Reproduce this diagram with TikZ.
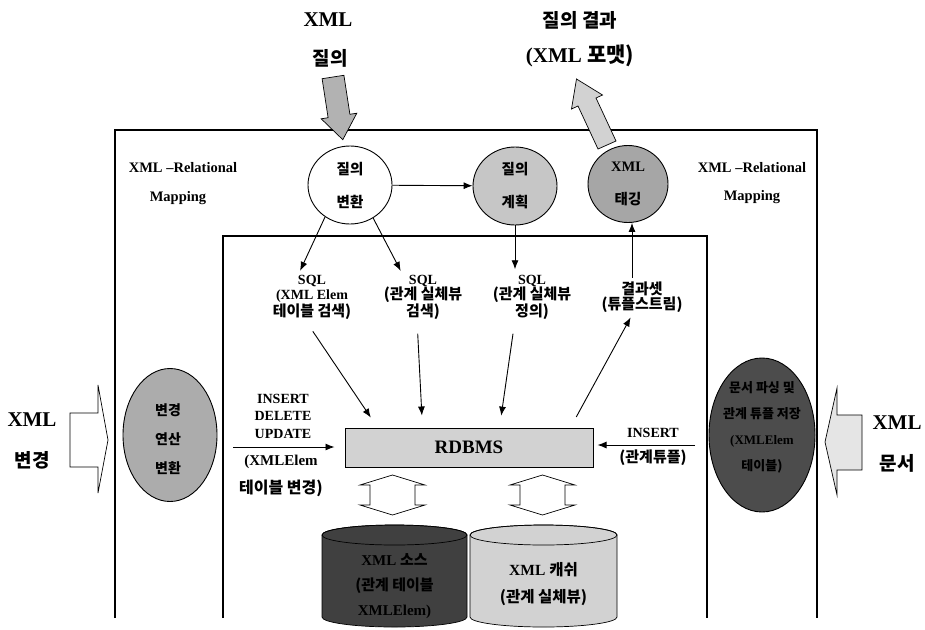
\documentclass[tikz,border=0pt]{standalone}
\usepackage{fontspec}
\setmainfont{Liberation Serif}
\newfontfamily\kr{Noto Sans CJK KR}
\newcommand\Kx[1]{{\kr\fontsize{15}{15}\selectfont #1}}
\usetikzlibrary{arrows.meta,shapes.geometric}
\begin{document}
\begin{tikzpicture}[x=1pt,y=-1pt,
  frameline/.style={line width=1.3pt},
  conn/.style={-{Latex[length=9pt,width=7pt]},line width=0.9pt},
  blk/.style={draw=black,line width=0.7pt,line join=miter},
  lbl/.style={align=center,inner sep=0pt,font=\bfseries\fontsize{14}{15}\selectfont},
  big/.style={inner sep=0pt,font=\bfseries\fontsize{21}{24}\selectfont},
  bigkr/.style={inner sep=0pt,font=\kr\bfseries\fontsize{19}{24}\selectfont},
  map/.style={inner sep=0pt,font=\bfseries\fontsize{14.5}{16}\selectfont},
  proc/.style={ellipse,draw,line width=0.9pt,minimum width=84pt,minimum height=78pt,inner sep=0pt},
  proctxt/.style={align=center,inner sep=0pt,font=\kr\bfseries\fontsize{14.5}{33}\selectfont},
  oval/.style={ellipse,draw,line width=0.9pt,inner sep=0pt},
]
\useasboundingbox (0,0) rectangle (925,629);
% frame
\draw[frameline] (115,618) -- (115,130) -- (817,130) -- (817,618);
\draw[frameline] (223,618) -- (223,236) -- (707,236) -- (707,618);
% top labels
\node[big] (tx) at (328,20) {XML};
\node[bigkr] (tq) at (330,58) {질의};
\node[bigkr] (tr1) at (580,20) {질의 결과};
\node[big] (tr2) at (580,56) {(XML {\kr 포맷)}};
% top block arrows
\filldraw[blk,fill=gray!60] (322.1,78.7) -- (343.9,75.3) -- (349.9,114.3) -- (356.8,113.2) -- (342.8,139.7) -- (321.2,118.8) -- (328.1,117.7) -- cycle;
\filldraw[blk,fill=gray!35] (576.5,79) -- (602.5,95) -- (596,98) -- (616,141) -- (598,149) -- (578,106) -- (571.5,109) -- cycle;
% mapping labels
\node[map] (m1) at (183,168) {XML –Relational};
\node[map] (m2) at (178,198) {Mapping};
\node[map] (m3) at (752,168) {XML –Relational};
\node[map] (m4) at (752,197) {Mapping};
% process circles
\node[proc,fill=white] (c1) at (350,185) {};
\node[proctxt] (c1t) at (c1) {질의\\변환};
\node[proc,fill=gray!45] (c2) at (515,186) {};
\node[proctxt] (c2t) at (c2) {질의\\계획};
\node[proc,fill=gray!70,minimum width=80pt,minimum height=77pt] (c3) at (628,184) {};
\node[proctxt] (c3t) at (c3) {{\rmfamily XML}\\태깅};
\draw[conn] (c1) -- (c2);
% SQL labels
\node[lbl] (s1) at (312,297.5) {SQL\\(XML Elem\\\Kx{테이블 검색)}};
\node[lbl] (s2) at (423,297.5) {SQL\\\Kx{(관계 실체뷰}\\\Kx{검색)}};
\node[lbl] (s3) at (532,297.5) {SQL\\\Kx{(관계 실체뷰}\\\Kx{정의)}};
\node[lbl] (s4) at (642,297.5) {\Kx{결과셋}\\\Kx{(튜플스트림)}};
\draw[conn,shorten >=5pt] (c1.232) -- ([xshift=-14pt]s1.north);
\draw[conn,shorten >=5pt] (c1.305) -- ([xshift=-20pt]s2.north);
\draw[conn,shorten >=6pt] (c2.south) -- (c2.south |- s3.north);
\coordinate (s4top) at ([xshift=-10pt,yshift=4pt]s4.north);
\draw[conn] (s4top) -- (s4top |- c3.south);
% RDBMS
\node[draw,fill=gray!35,minimum width=248pt,minimum height=39pt,inner sep=0pt,line width=1pt,font=\bfseries\fontsize{19}{22}\selectfont] (R) at (469,447.5) {RDBMS};
\draw[conn,shorten <=14pt,shorten >=12pt] ([xshift=-7pt]s1.south) -- ([xshift=33pt]R.north west);
\draw[conn,shorten <=14pt,shorten >=12pt] ([xshift=-6pt]s2.south) -- ([xshift=78pt]R.north west);
\draw[conn,shorten <=14pt,shorten >=12pt] ([xshift=-17pt]s3.south) -- ([xshift=155pt]R.north west);
\draw[conn,shorten <=12pt,shorten >=5pt] ([xshift=-23pt]R.north east) -- ([xshift=-9pt]s4.south);
% left update input
\node[lbl,font=\bfseries\fontsize{14}{17.5}\selectfont] (ins1) at (283,416) {INSERT\\DELETE\\UPDATE};
\coordinate (la) at (233,447);
\draw[conn,shorten >=10pt] (la) -- (R.west |- la);
\node[lbl,font=\bfseries\fontsize{15}{28}\selectfont] (ins2) at (281,476) {(XMLElem\\{\kr\fontsize{16}{28}\selectfont 테이블 변경)}};
% right insert
\node[lbl,font=\bfseries\fontsize{14}{17}\selectfont] (ins3) at (653,433) {INSERT};
\node[lbl,font=\kr\bfseries\fontsize{15}{17}\selectfont] (ins4) at (653,458) {(관계튜플)};
\coordinate (ra) at (695,445);
\draw[conn,shorten >=4pt] (ra) -- (R.east |- ra);
% side ellipses
\node[oval,fill=gray!65,minimum width=94pt,minimum height=133pt] (E1) at (170,435) {};
\node[proctxt,font=\kr\bfseries\fontsize{14}{29}\selectfont] (E1t) at (168,439) {변경\\연산\\변환};
\node[oval,fill=black!70,minimum width=106pt,minimum height=154pt] (E2) at (762,435) {};
\node[proctxt,font=\kr\bfseries\fontsize{13}{26}\selectfont] (E2t) at (762,427) {문서 파싱 및\\관계 튜플 저장\\{\rmfamily (XMLElem}\\테이블)};
% side big labels
\node[big] (lx) at (32,420) {XML};
\node[bigkr] (lb) at (32,460) {변경};
\node[big] (rx) at (897,423) {XML};
\node[bigkr] (rm) at (897,463) {문서};
% side block arrows
\filldraw[blk,fill=white] (70,413) -- (98,413) -- (98,385) -- (108,440) -- (98,493) -- (98,467) -- (70,467) -- cycle;
\filldraw[blk,fill=gray!20] (862,415) -- (837,415) -- (837,388) -- (825,442) -- (837,495) -- (837,470) -- (862,470) -- cycle;
% double arrows
\foreach \cx in {392.5,542.5}
  \filldraw[blk,fill=white] (\cx,475) -- (\cx+32.5,485) -- (\cx+22.5,485) -- (\cx+22.5,505) -- (\cx+32.5,505) -- (\cx,515) -- (\cx-32.5,505) -- (\cx-22.5,505) -- (\cx-22.5,485) -- (\cx-32.5,485) -- cycle;
% cylinders
\filldraw[blk,fill=black!75] (322,535) -- (322,617) arc[start angle=180,end angle=360,x radius=72.5pt,y radius=10pt] -- (467,535) arc[start angle=0,end angle=180,x radius=72.5pt,y radius=10pt] -- cycle;
\draw[blk] (394.5,535) ellipse [x radius=72.5pt,y radius=10pt];
\filldraw[blk,fill=gray!35] (470,535) -- (470,617) arc[start angle=180,end angle=360,x radius=73.5pt,y radius=10pt] -- (617,535) arc[start angle=0,end angle=180,x radius=73.5pt,y radius=10pt] -- cycle;
\draw[blk] (543.5,535) ellipse [x radius=73.5pt,y radius=10pt];
\node[map,font=\bfseries\fontsize{15}{16}\selectfont] (d1a) at (394.5,560) {XML {\kr 소스}};
\node[map,font=\kr\bfseries\fontsize{15}{16}\selectfont] (d1b) at (394.5,586) {(관계 테이블};
\node[map,font=\bfseries\fontsize{15}{16}\selectfont] (d1c) at (394.5,612) {XMLElem)};
\node[map,font=\bfseries\fontsize{15.5}{16}\selectfont] (d2a) at (543.5,570) {XML {\kr 캐쉬}};
\node[map,font=\kr\bfseries\fontsize{15.5}{16}\selectfont] (d2b) at (543.5,598) {(관계 실체뷰)};
\end{tikzpicture}
\end{document}
